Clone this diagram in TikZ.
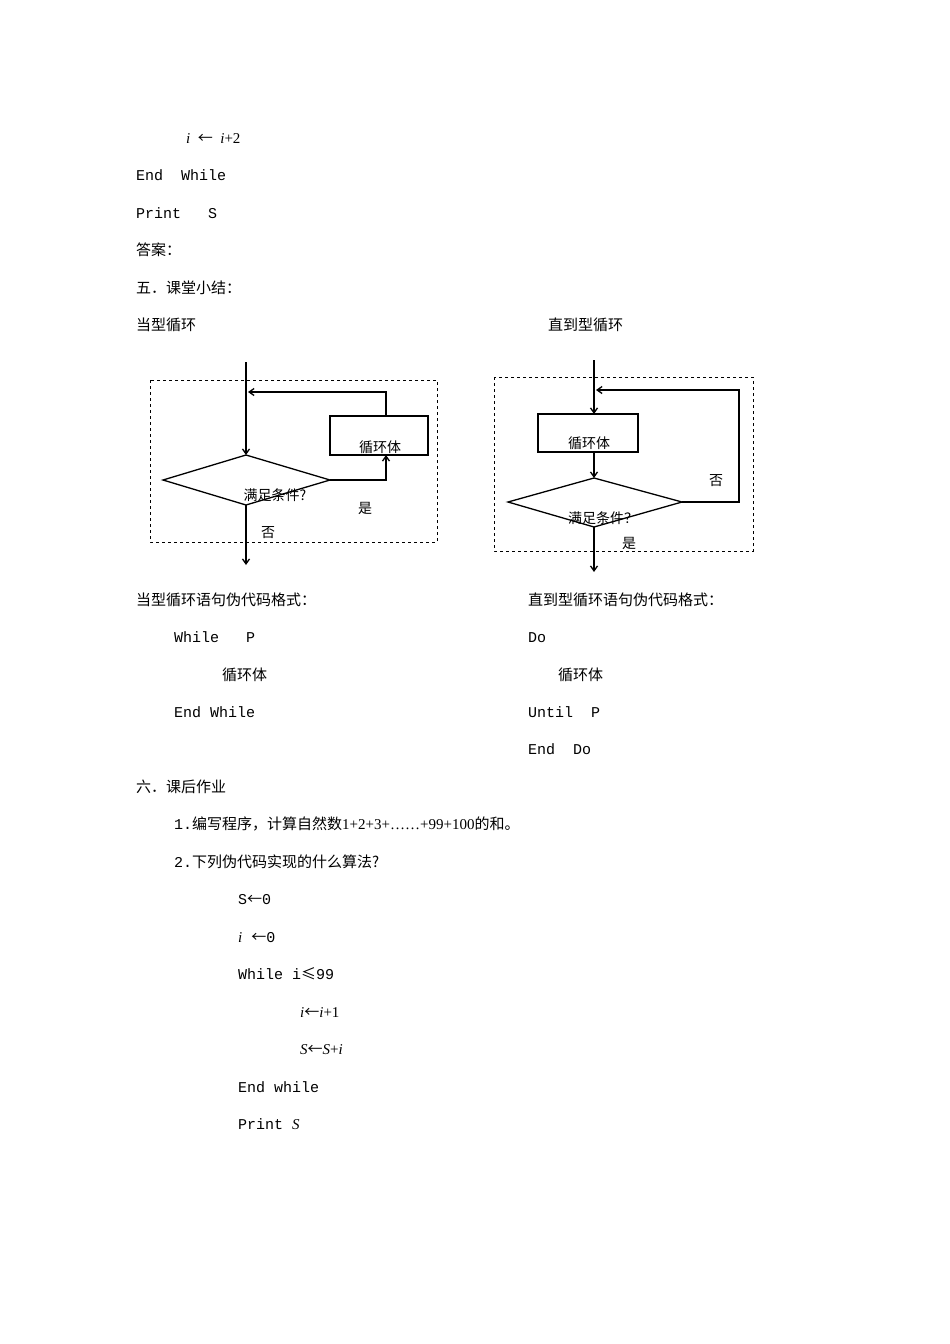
\documentclass[tikz,border=0pt]{standalone}
\usepackage{fontspec}
\setmainfont{Liberation Mono}
\newfontfamily\cjk{Noto Sans CJK SC}
\newfontfamily\ser{Liberation Serif}
\usetikzlibrary{arrows.meta}
\begin{document}
\begin{tikzpicture}[x=1pt,y=-1pt,
  t/.style={anchor=base west,inner sep=0,font=\fontsize{15}{15}\selectfont},
  lab/.style={inner sep=0,font=\cjk\fontsize{14}{14}\selectfont},
  ln/.style={line width=1.3pt},
  ar/.style={ln,-{Straight Barb[length=5pt,width=7pt]}},
  dbox/.style={draw,dashed,line width=0.7pt}]
\useasboundingbox (0,0) rectangle (950,1344);
\node[t] (l1) at (186,143) {\ser\itshape i\upshape\ \ {\cjk ←}\ \ \itshape i\upshape+2};
\node[t] (l2) at (136,180) {End\ \ While};
\node[t] (l3) at (136,218) {Print\ \ \ S};
\node[t] (l4) at (136,255) {\cjk 答案：};
\node[t] (l5) at (136,293) {\cjk 五．课堂小结：};
\node[t] (l6) at (136,330) {\cjk 当型循环};
\node[t] (l7) at (548,330) {\cjk 直到型循环};
% left diagram
\draw[dbox] (150,380) rectangle (437,542);
\coordinate (ls) at (246,362);
\node[draw,ln,minimum width=98pt,minimum height=39pt,inner sep=0] (lb) at (379,435.5) {};
\node[lab] at (380,447) {循环体};
\coordinate (dt) at (246,455); \coordinate (dr) at (330,480);
\coordinate (db) at (246,505); \coordinate (dl) at (163,480);
\draw[ln] (dt)--(dr)--(db)--(dl)--cycle;
\draw[ar] (ls)--(dt);
\draw[ar] (dr)-|(386,455);
\draw[ar] (386,416)--(386,392)--(248,392);
\coordinate (le) at (246,565);
\draw[ar] (db)--(le);
\node[lab] at (275,495) {满足条件?};
\node[lab] at (365,508) {是};
\node[lab] at (268,533) {否};
% right diagram
\draw[dbox] (494,377) rectangle (753,551);
\coordinate (rs) at (594,360);
\node[draw,ln,minimum width=100pt,minimum height=38pt,inner sep=0] (rb) at (588,433) {};
\node[lab] at (589,443) {循环体};
\draw[ar] (rs)--(594,414);
\coordinate (et) at (594,478); \coordinate (er) at (682,502);
\coordinate (eb) at (594,527); \coordinate (el) at (508,502);
\draw[ln] (et)--(er)--(eb)--(el)--cycle;
\draw[ar] (594,452)--(et);
\draw[ar] (er)--(739,502)--(739,390)--(596,390);
\coordinate (re) at (594,572);
\draw[ar] (eb)--(re);
\node[lab] at (716,481) {否};
\node[lab] at (603,518) {满足条件？};
\node[lab] at (629,543) {是};
% lower text
\node[t] at (136,605) {\cjk 当型循环语句伪代码格式：};
\node[t] at (528,605) {\cjk 直到型循环语句伪代码格式：};
\node[t] at (174,642) {While\ \ \ P};
\node[t] at (528,642) {Do};
\node[t] at (222,680) {\cjk 循环体};
\node[t] at (558,680) {\cjk 循环体};
\node[t] at (174,717) {End While};
\node[t] at (528,717) {Until\ \ P};
\node[t] at (528,754) {End\ \ Do};
\node[t] at (136,792) {\cjk 六．课后作业};
\node[t] at (174,829) {1.{\cjk 编写程序，计算自然数}{\ser 1+2+3+……+99+100}{\cjk 的和。}};
\node[t] at (174,867) {2.{\cjk 下列伪代码实现的什么算法?}};
\node[t] at (238,904) {S{\cjk ←}0};
\node[t] at (238,942) {{\ser\itshape i} {\cjk ←}0};
\node[t] at (238,979) {While i{\cjk ≤}99};
\node[t] at (300,1017) {{\ser\itshape i}{\cjk ←}{\ser\itshape i}{\ser +1}};
\node[t] at (300,1054) {{\ser\itshape S}{\cjk ←}{\ser\itshape S}{\ser +}{\ser\itshape i}};
\node[t] at (238,1092) {End while};
\node[t] at (238,1129) {Print {\ser\itshape S}};
\end{tikzpicture}
\end{document}
